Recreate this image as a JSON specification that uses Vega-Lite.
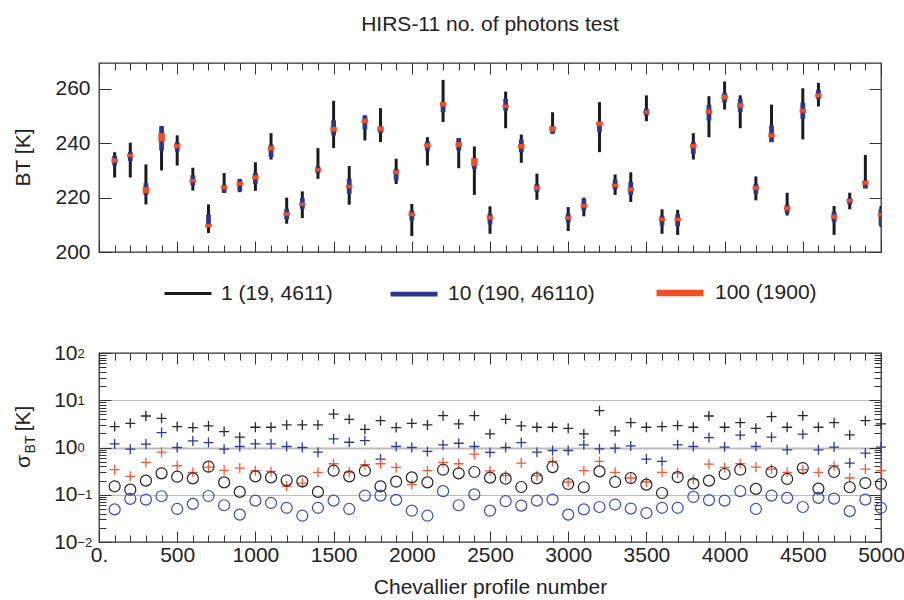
{
"$schema": "https://vega.github.io/schema/vega-lite/v6.json",
"padding": {"left": 11, "top": 12, "right": 0, "bottom": 0},
"config": {
  "font": "Liberation Sans",
  "view": {"stroke": "#333", "strokeWidth": 1.3},
  "axis": {"labelFont": "Liberation Sans", "labelFontSize": 21, "labelColor": "#222", "titleFont": "Liberation Sans", "titleFontSize": 21, "titleColor": "#222", "titleFontWeight": "normal", "tickColor": "#333", "tickWidth": 1, "domain": false, "grid": false, "labelOverlap": false, "labelBound": false, "labelFlush": false},
  "legend": {"layout": {"bottom": {"anchor": "middle"}}}
},
"spacing": 34,
"resolve": {"legend": {"color": "independent", "strokeWidth": "independent"}},
"vconcat": [
{
  "width": 782, "height": 189,
  "title": {"text": "HIRS-11 no. of photons test", "fontSize": 21, "fontWeight": "normal", "color": "#222", "offset": 28, "anchor": "middle", "font": "Liberation Sans"},
  "data": {"values": [
{"p":100,"s":"1 (19, 4611)","lo":227.4,"hi":236.7},{"p":200,"s":"1 (19, 4611)","lo":227.4,"hi":240.2},{"p":300,"s":"1 (19, 4611)","lo":217.5,"hi":232.2},{"p":400,"s":"1 (19, 4611)","lo":230.0,"hi":246.3},{"p":500,"s":"1 (19, 4611)","lo":231.8,"hi":242.9},{"p":600,"s":"1 (19, 4611)","lo":222.6,"hi":231.0},{"p":700,"s":"1 (19, 4611)","lo":207.0,"hi":217.5},{"p":800,"s":"1 (19, 4611)","lo":221.7,"hi":229.0},{"p":900,"s":"1 (19, 4611)","lo":222.0,"hi":226.9},{"p":1000,"s":"1 (19, 4611)","lo":222.5,"hi":233.0},
{"p":1100,"s":"1 (19, 4611)","lo":234.0,"hi":243.7},{"p":1200,"s":"1 (19, 4611)","lo":210.4,"hi":220.0},{"p":1300,"s":"1 (19, 4611)","lo":212.5,"hi":222.3},{"p":1400,"s":"1 (19, 4611)","lo":226.9,"hi":238.2},{"p":1500,"s":"1 (19, 4611)","lo":238.2,"hi":255.6},{"p":1600,"s":"1 (19, 4611)","lo":217.4,"hi":231.6},{"p":1700,"s":"1 (19, 4611)","lo":241.0,"hi":250.2},{"p":1800,"s":"1 (19, 4611)","lo":240.4,"hi":252.9},{"p":1900,"s":"1 (19, 4611)","lo":225.0,"hi":234.3},{"p":2000,"s":"1 (19, 4611)","lo":205.9,"hi":217.7},
{"p":2100,"s":"1 (19, 4611)","lo":231.8,"hi":242.2},{"p":2200,"s":"1 (19, 4611)","lo":247.8,"hi":263.3},{"p":2300,"s":"1 (19, 4611)","lo":230.8,"hi":241.9},{"p":2400,"s":"1 (19, 4611)","lo":221.0,"hi":238.8},{"p":2500,"s":"1 (19, 4611)","lo":206.7,"hi":216.8},{"p":2600,"s":"1 (19, 4611)","lo":245.5,"hi":259.0},{"p":2700,"s":"1 (19, 4611)","lo":232.8,"hi":243.2},{"p":2800,"s":"1 (19, 4611)","lo":219.2,"hi":228.8},{"p":2900,"s":"1 (19, 4611)","lo":243.5,"hi":251.4},{"p":3000,"s":"1 (19, 4611)","lo":207.7,"hi":216.5},
{"p":3100,"s":"1 (19, 4611)","lo":213.1,"hi":220.0},{"p":3200,"s":"1 (19, 4611)","lo":236.7,"hi":255.1},{"p":3300,"s":"1 (19, 4611)","lo":221.0,"hi":228.5},{"p":3400,"s":"1 (19, 4611)","lo":218.4,"hi":229.3},{"p":3500,"s":"1 (19, 4611)","lo":248.1,"hi":257.6},{"p":3600,"s":"1 (19, 4611)","lo":206.7,"hi":215.7},{"p":3700,"s":"1 (19, 4611)","lo":206.3,"hi":215.5},{"p":3800,"s":"1 (19, 4611)","lo":234.0,"hi":243.7},{"p":3900,"s":"1 (19, 4611)","lo":242.2,"hi":257.3},{"p":4000,"s":"1 (19, 4611)","lo":252.4,"hi":262.7},
{"p":4100,"s":"1 (19, 4611)","lo":245.5,"hi":257.6},{"p":4200,"s":"1 (19, 4611)","lo":219.0,"hi":227.8},{"p":4300,"s":"1 (19, 4611)","lo":240.4,"hi":254.2},{"p":4400,"s":"1 (19, 4611)","lo":213.4,"hi":221.8},{"p":4500,"s":"1 (19, 4611)","lo":241.4,"hi":260.2},{"p":4600,"s":"1 (19, 4611)","lo":253.5,"hi":262.2},{"p":4700,"s":"1 (19, 4611)","lo":206.3,"hi":216.9},{"p":4800,"s":"1 (19, 4611)","lo":215.7,"hi":221.8},{"p":4900,"s":"1 (19, 4611)","lo":223.9,"hi":235.7},{"p":5000,"s":"1 (19, 4611)","lo":209.2,"hi":216.9},
{"p":100,"s":"10 (190, 46110)","lo":231.8,"hi":235.3},{"p":200,"s":"10 (190, 46110)","lo":233.5,"hi":236.7},{"p":300,"s":"10 (190, 46110)","lo":221.0,"hi":225.3},{"p":400,"s":"10 (190, 46110)","lo":237.3,"hi":246.3},{"p":500,"s":"10 (190, 46110)","lo":237.0,"hi":240.4},{"p":600,"s":"10 (190, 46110)","lo":224.5,"hi":228.2},{"p":700,"s":"10 (190, 46110)","lo":209.2,"hi":213.8},{"p":800,"s":"10 (190, 46110)","lo":221.8,"hi":224.7},{"p":900,"s":"10 (190, 46110)","lo":222.3,"hi":226.8},{"p":1000,"s":"10 (190, 46110)","lo":225.1,"hi":229.1},
{"p":1100,"s":"10 (190, 46110)","lo":234.9,"hi":239.5},{"p":1200,"s":"10 (190, 46110)","lo":212.0,"hi":215.9},{"p":1300,"s":"10 (190, 46110)","lo":215.9,"hi":219.8},{"p":1400,"s":"10 (190, 46110)","lo":229.0,"hi":231.5},{"p":1500,"s":"10 (190, 46110)","lo":242.9,"hi":248.4},{"p":1600,"s":"10 (190, 46110)","lo":221.4,"hi":226.9},{"p":1700,"s":"10 (190, 46110)","lo":245.1,"hi":250.2},{"p":1800,"s":"10 (190, 46110)","lo":243.8,"hi":246.3},{"p":1900,"s":"10 (190, 46110)","lo":226.3,"hi":230.6},{"p":2000,"s":"10 (190, 46110)","lo":211.6,"hi":215.3},
{"p":2100,"s":"10 (190, 46110)","lo":237.3,"hi":240.6},{"p":2200,"s":"10 (190, 46110)","lo":251.4,"hi":255.1},{"p":2300,"s":"10 (190, 46110)","lo":237.3,"hi":241.9},{"p":2400,"s":"10 (190, 46110)","lo":230.6,"hi":234.3},{"p":2500,"s":"10 (190, 46110)","lo":210.1,"hi":214.1},{"p":2600,"s":"10 (190, 46110)","lo":252.0,"hi":256.3},{"p":2700,"s":"10 (190, 46110)","lo":236.7,"hi":241.4},{"p":2800,"s":"10 (190, 46110)","lo":222.0,"hi":225.1},{"p":2900,"s":"10 (190, 46110)","lo":243.5,"hi":246.3},{"p":3000,"s":"10 (190, 46110)","lo":210.8,"hi":214.1},
{"p":3100,"s":"10 (190, 46110)","lo":215.3,"hi":219.6},{"p":3200,"s":"10 (190, 46110)","lo":244.1,"hi":247.8},{"p":3300,"s":"10 (190, 46110)","lo":223.0,"hi":226.7},{"p":3400,"s":"10 (190, 46110)","lo":221.0,"hi":225.7},{"p":3500,"s":"10 (190, 46110)","lo":250.2,"hi":252.7},{"p":3600,"s":"10 (190, 46110)","lo":209.8,"hi":213.4},{"p":3700,"s":"10 (190, 46110)","lo":209.5,"hi":213.9},{"p":3800,"s":"10 (190, 46110)","lo":236.1,"hi":240.4},{"p":3900,"s":"10 (190, 46110)","lo":248.4,"hi":254.1},{"p":4000,"s":"10 (190, 46110)","lo":255.1,"hi":258.5},
{"p":4100,"s":"10 (190, 46110)","lo":251.4,"hi":256.3},{"p":4200,"s":"10 (190, 46110)","lo":221.4,"hi":225.1},{"p":4300,"s":"10 (190, 46110)","lo":240.4,"hi":246.5},{"p":4400,"s":"10 (190, 46110)","lo":214.1,"hi":217.4},{"p":4500,"s":"10 (190, 46110)","lo":249.0,"hi":254.9},{"p":4600,"s":"10 (190, 46110)","lo":256.3,"hi":259.6},{"p":4700,"s":"10 (190, 46110)","lo":211.0,"hi":214.9},{"p":4800,"s":"10 (190, 46110)","lo":217.4,"hi":219.8},{"p":4900,"s":"10 (190, 46110)","lo":223.3,"hi":226.3},{"p":5000,"s":"10 (190, 46110)","lo":209.8,"hi":215.9},
{"p":100,"s":"100 (1900)","lo":232.9,"hi":234.4},{"p":200,"s":"100 (1900)","lo":234.9,"hi":236.0},{"p":300,"s":"100 (1900)","lo":221.7,"hi":223.9},{"p":400,"s":"100 (1900)","lo":240.6,"hi":243.8},{"p":500,"s":"100 (1900)","lo":238.2,"hi":239.7},{"p":600,"s":"100 (1900)","lo":225.6,"hi":226.8},{"p":700,"s":"100 (1900)","lo":209.0,"hi":210.4},{"p":800,"s":"100 (1900)","lo":223.1,"hi":224.4},{"p":900,"s":"100 (1900)","lo":224.4,"hi":225.8},{"p":1000,"s":"100 (1900)","lo":226.7,"hi":228.2},
{"p":1100,"s":"100 (1900)","lo":237.3,"hi":238.9},{"p":1200,"s":"100 (1900)","lo":213.3,"hi":214.6},{"p":1300,"s":"100 (1900)","lo":217.0,"hi":218.1},{"p":1400,"s":"100 (1900)","lo":229.6,"hi":230.8},{"p":1500,"s":"100 (1900)","lo":244.3,"hi":246.0},{"p":1600,"s":"100 (1900)","lo":223.4,"hi":224.7},{"p":1700,"s":"100 (1900)","lo":247.4,"hi":249.0},{"p":1800,"s":"100 (1900)","lo":244.4,"hi":246.2},{"p":1900,"s":"100 (1900)","lo":228.6,"hi":230.0},{"p":2000,"s":"100 (1900)","lo":213.2,"hi":214.5},
{"p":2100,"s":"100 (1900)","lo":238.4,"hi":240.0},{"p":2200,"s":"100 (1900)","lo":253.5,"hi":255.1},{"p":2300,"s":"100 (1900)","lo":238.6,"hi":240.4},{"p":2400,"s":"100 (1900)","lo":231.6,"hi":234.5},{"p":2500,"s":"100 (1900)","lo":211.9,"hi":213.4},{"p":2600,"s":"100 (1900)","lo":253.0,"hi":254.2},{"p":2700,"s":"100 (1900)","lo":238.0,"hi":239.7},{"p":2800,"s":"100 (1900)","lo":222.9,"hi":224.2},{"p":2900,"s":"100 (1900)","lo":244.3,"hi":246.2},{"p":3000,"s":"100 (1900)","lo":211.9,"hi":213.1},
{"p":3100,"s":"100 (1900)","lo":216.3,"hi":217.7},{"p":3200,"s":"100 (1900)","lo":246.3,"hi":248.0},{"p":3300,"s":"100 (1900)","lo":223.9,"hi":225.1},{"p":3400,"s":"100 (1900)","lo":222.3,"hi":223.7},{"p":3500,"s":"100 (1900)","lo":250.8,"hi":252.0},{"p":3600,"s":"100 (1900)","lo":211.4,"hi":212.6},{"p":3700,"s":"100 (1900)","lo":211.4,"hi":212.6},{"p":3800,"s":"100 (1900)","lo":238.2,"hi":239.7},{"p":3900,"s":"100 (1900)","lo":250.8,"hi":252.5},{"p":4000,"s":"100 (1900)","lo":256.1,"hi":257.8},
{"p":4100,"s":"100 (1900)","lo":253.1,"hi":254.7},{"p":4200,"s":"100 (1900)","lo":222.8,"hi":224.2},{"p":4300,"s":"100 (1900)","lo":242.1,"hi":243.6},{"p":4400,"s":"100 (1900)","lo":215.3,"hi":216.8},{"p":4500,"s":"100 (1900)","lo":251.2,"hi":252.7},{"p":4600,"s":"100 (1900)","lo":256.8,"hi":258.3},{"p":4700,"s":"100 (1900)","lo":212.2,"hi":213.7},{"p":4800,"s":"100 (1900)","lo":218.2,"hi":219.5},{"p":4900,"s":"100 (1900)","lo":224.7,"hi":226.2},{"p":5000,"s":"100 (1900)","lo":213.0,"hi":214.4}
  ]},
  "layer": [
    {
      "mark": {"type": "rule", "clip": true, "strokeCap": "butt"},
      "encoding": {
        "x": {"field": "p", "type": "quantitative", "scale": {"domain": [0, 5000], "nice": false, "zero": false},
              "axis": {"orient": "bottom", "values": [0,100,200,300,400,500,600,700,800,900,1000,1100,1200,1300,1400,1500,1600,1700,1800,1900,2000,2100,2200,2300,2400,2500,2600,2700,2800,2900,3000,3100,3200,3300,3400,3500,3600,3700,3800,3900,4000,4100,4200,4300,4400,4500,4600,4700,4800,4900,5000],
                       "tickSize": {"condition": {"test": "datum.value % 500 === 0", "value": -11}, "value": -7}, "labels": false, "title": null}},
        "y": {"field": "lo", "type": "quantitative", "scale": {"domain": [200, 269.5], "nice": false, "zero": false},
              "axis": {"orient": "left", "values": [200, 220, 240, 260], "tickSize": -12, "labelPadding": 21, "title": "BT [K]", "titleX": -70, "titleY": 94, "titleAngle": -90, "titleAlign": "center", "titleBaseline": "alphabetic"}},
        "y2": {"field": "hi"},
        "color": {"field": "s", "type": "nominal", "sort": null,
                  "scale": {"domain": ["1 (19, 4611)", "10 (190, 46110)", "100 (1900)"], "range": ["#1c1c1c", "#2a3691", "#f04e23"]},
                  "legend": {"orient": "bottom", "direction": "horizontal", "title": null, "symbolType": "stroke", "symbolSize": 2209, "labelFontSize": 21, "labelColor": "#222", "labelFont": "Liberation Sans", "labelOffset": 8, "columnPadding": 48, "labelLimit": 300, "offset": 13}},
        "strokeWidth": {"field": "s", "type": "nominal", "sort": null,
                  "scale": {"domain": ["1 (19, 4611)", "10 (190, 46110)", "100 (1900)"], "range": [3, 6.5, 12.5]},
                  "legend": {"orient": "bottom", "direction": "horizontal", "title": null, "symbolType": "stroke", "symbolSize": 2209, "labelFontSize": 21, "labelColor": "#222", "labelFont": "Liberation Sans", "labelOffset": 8, "columnPadding": 48, "labelLimit": 300, "offset": 13}}
      }
    },
    {
      "mark": {"type": "point", "opacity": 0},
      "encoding": {
        "x": {"field": "p", "type": "quantitative", "scale": {"domain": [0, 5000], "nice": false, "zero": false},
              "axis": {"orient": "top", "values": [0,100,200,300,400,500,600,700,800,900,1000,1100,1200,1300,1400,1500,1600,1700,1800,1900,2000,2100,2200,2300,2400,2500,2600,2700,2800,2900,3000,3100,3200,3300,3400,3500,3600,3700,3800,3900,4000,4100,4200,4300,4400,4500,4600,4700,4800,4900,5000],
                       "tickSize": {"condition": {"test": "datum.value % 500 === 0", "value": -11}, "value": -7}, "labels": false, "title": null}},
        "y": {"field": "lo", "type": "quantitative", "scale": {"domain": [200, 269.5], "nice": false, "zero": false},
              "axis": {"orient": "right", "values": [200, 220, 240, 260], "tickSize": -12, "labels": false, "title": null}}
      }
    }
  ],
  "resolve": {"axis": {"x": "independent", "y": "independent"}}
},
{
  "width": 782, "height": 189,
  "data": {"values": [
{"p":100,"bp":2.77,"up":1.19,"rp":0.339,"bc":0.151,"uc":0.049},{"p":200,"bp":3.25,"up":0.923,"rp":0.245,"bc":0.128,"uc":0.082},{"p":300,"bp":4.64,"up":1.18,"rp":0.483,"bc":0.199,"uc":0.079},{"p":400,"bp":4.15,"up":2.07,"rp":0.798,"bc":0.284,"uc":0.093},{"p":500,"bp":2.77,"up":1.0,"rp":0.411,"bc":0.241,"uc":0.05},
{"p":600,"bp":2.64,"up":1.38,"rp":0.298,"bc":0.222,"uc":0.064},{"p":700,"bp":2.86,"up":1.27,"rp":0.385,"bc":0.392,"uc":0.094},{"p":800,"bp":2.17,"up":0.923,"rp":0.328,"bc":0.183,"uc":0.06},{"p":900,"bp":1.65,"up":1.05,"rp":0.367,"bc":0.115,"uc":0.038},{"p":1000,"bp":2.68,"up":1.19,"rp":0.323,"bc":0.245,"uc":0.075},
{"p":1100,"bp":2.68,"up":1.19,"rp":0.312,"bc":0.233,"uc":0.067},{"p":1200,"bp":3.0,"up":1.05,"rp":0.151,"bc":0.202,"uc":0.053},{"p":1300,"bp":3.0,"up":1.0,"rp":0.177,"bc":0.192,"uc":0.036},{"p":1400,"bp":3.0,"up":0.798,"rp":0.298,"bc":0.115,"uc":0.053},{"p":1500,"bp":5.11,"up":1.52,"rp":0.453,"bc":0.323,"uc":0.075},
{"p":1600,"bp":3.95,"up":1.29,"rp":0.298,"bc":0.245,"uc":0.05},{"p":1700,"bp":2.43,"up":1.4,"rp":0.432,"bc":0.323,"uc":0.096},{"p":1800,"bp":3.7,"up":0.568,"rp":0.453,"bc":0.151,"uc":0.096},{"p":1900,"bp":2.64,"up":1.05,"rp":0.379,"bc":0.189,"uc":0.078},{"p":2000,"bp":3.25,"up":1.0,"rp":0.164,"bc":0.233,"uc":0.046},
{"p":2100,"bp":3.0,"up":0.824,"rp":0.323,"bc":0.183,"uc":0.036},{"p":2200,"bp":4.72,"up":1.14,"rp":0.483,"bc":0.339,"uc":0.119},{"p":2300,"bp":3.15,"up":1.23,"rp":0.453,"bc":0.284,"uc":0.06},{"p":2400,"bp":4.72,"up":1.05,"rp":0.724,"bc":0.303,"uc":0.102},{"p":2500,"bp":1.94,"up":0.785,"rp":0.32,"bc":0.23,"uc":0.046},
{"p":2600,"bp":3.95,"up":1.0,"rp":0.253,"bc":0.219,"uc":0.073},{"p":2700,"bp":2.86,"up":1.27,"rp":0.468,"bc":0.146,"uc":0.059},{"p":2800,"bp":2.68,"up":0.798,"rp":0.253,"bc":0.222,"uc":0.075},{"p":2900,"bp":2.68,"up":0.865,"rp":0.507,"bc":0.385,"uc":0.079},{"p":3000,"bp":2.55,"up":0.865,"rp":0.186,"bc":0.169,"uc":0.038},
{"p":3100,"bp":1.94,"up":1.14,"rp":0.323,"bc":0.144,"uc":0.049},{"p":3200,"bp":6.01,"up":0.937,"rp":0.507,"bc":0.312,"uc":0.055},{"p":3300,"bp":2.24,"up":0.968,"rp":0.298,"bc":0.186,"uc":0.062},{"p":3400,"bp":3.36,"up":1.08,"rp":0.226,"bc":0.226,"uc":0.051},{"p":3500,"bp":2.68,"up":0.568,"rp":0.186,"bc":0.164,"uc":0.041},
{"p":3600,"bp":2.77,"up":0.507,"rp":0.298,"bc":0.109,"uc":0.053},{"p":3700,"bp":2.91,"up":1.14,"rp":0.288,"bc":0.237,"uc":0.053},{"p":3800,"bp":2.68,"up":1.05,"rp":0.209,"bc":0.172,"uc":0.09},{"p":3900,"bp":4.64,"up":1.62,"rp":0.446,"bc":0.199,"uc":0.077},{"p":4000,"bp":2.68,"up":1.02,"rp":0.379,"bc":0.275,"uc":0.075},
{"p":4100,"bp":3.36,"up":1.82,"rp":0.453,"bc":0.339,"uc":0.119},{"p":4200,"bp":2.55,"up":1.05,"rp":0.385,"bc":0.133,"uc":0.05},{"p":4300,"bp":4.49,"up":1.65,"rp":0.35,"bc":0.303,"uc":0.096},{"p":4400,"bp":2.68,"up":0.893,"rp":0.298,"bc":0.216,"uc":0.086},{"p":4500,"bp":4.72,"up":1.91,"rp":0.339,"bc":0.367,"uc":0.055},
{"p":4600,"bp":2.68,"up":0.893,"rp":0.298,"bc":0.135,"uc":0.086},{"p":4700,"bp":3.36,"up":1.02,"rp":0.411,"bc":0.303,"uc":0.083},{"p":4800,"bp":1.85,"up":0.468,"rp":0.226,"bc":0.144,"uc":0.045},{"p":4900,"bp":3.7,"up":0.76,"rp":0.35,"bc":0.177,"uc":0.079},{"p":5000,"bp":3.15,"up":1.02,"rp":0.323,"bc":0.169,"uc":0.053}
  ]},
  "layer": [
    {
      "mark": {"type": "point", "shape": "M-1,0H1M0,-1V1", "size": 100, "filled": false, "stroke": "#2b2b2b", "strokeWidth": 1.3, "opacity": 1},
      "encoding": {
        "x": {"field": "p", "type": "quantitative", "scale": {"domain": [0, 5000], "nice": false, "zero": false},
              "axis": {"orient": "bottom", "values": [0,100,200,300,400,500,600,700,800,900,1000,1100,1200,1300,1400,1500,1600,1700,1800,1900,2000,2100,2200,2300,2400,2500,2600,2700,2800,2900,3000,3100,3200,3300,3400,3500,3600,3700,3800,3900,4000,4100,4200,4300,4400,4500,4600,4700,4800,4900,5000],
                       "tickSize": {"condition": {"test": "datum.value % 500 === 0", "value": -11}, "value": -7},
                       "labelExpr": "datum.value === 0 ? '0.' : (datum.value % 500 === 0 ? '' + datum.value : '')",
                       "labelPadding": 13, "title": "Chevallier profile number", "titlePadding": 7}},
        "y": {"field": "bp", "type": "quantitative", "scale": {"type": "log", "domain": [0.01, 100], "nice": false},
              "axis": {"orient": "left", "values": [0.01,0.02,0.03,0.04,0.05,0.06,0.07,0.08,0.09,0.1,0.2,0.3,0.4,0.5,0.6,0.7,0.8,0.9,1,2,3,4,5,6,7,8,9,10,20,30,40,50,60,70,80,90,100],
                       "tickSize": {"condition": {"test": "datum.value === 0.01 || datum.value === 0.1 || datum.value === 1 || datum.value === 10 || datum.value === 100", "value": -12}, "value": -7},
                       "labelExpr": "(datum.value === 0.01 || datum.value === 0.1 || datum.value === 1 || datum.value === 10 || datum.value === 100) ? '10' : ''",
                       "labelPadding": 34, "labelBaseline": "middle",
                       "title": "σ", "titleX": -70, "titleY": 108, "titleAngle": -90, "titleAlign": "center", "titleBaseline": "alphabetic"}}
      }
    },
    {
      "mark": {"type": "point", "shape": "M-1,0H1M0,-1V1", "size": 100, "filled": false, "stroke": "#2e3a94", "strokeWidth": 1.3, "opacity": 1},
      "encoding": {
        "x": {"field": "p", "type": "quantitative", "scale": {"domain": [0, 5000], "nice": false, "zero": false},
              "axis": {"orient": "top", "values": [0,100,200,300,400,500,600,700,800,900,1000,1100,1200,1300,1400,1500,1600,1700,1800,1900,2000,2100,2200,2300,2400,2500,2600,2700,2800,2900,3000,3100,3200,3300,3400,3500,3600,3700,3800,3900,4000,4100,4200,4300,4400,4500,4600,4700,4800,4900,5000],
                       "tickSize": {"condition": {"test": "datum.value % 500 === 0", "value": -11}, "value": -7}, "labels": false, "title": null}},
        "y": {"field": "up", "type": "quantitative", "scale": {"type": "log", "domain": [0.01, 100], "nice": false},
              "axis": {"orient": "left", "values": [0.01, 0.1, 1, 10, 100], "ticks": false,
                       "labelExpr": "datum.value >= 100 ? '2' : datum.value >= 10 ? '1' : datum.value >= 1 ? '0' : datum.value >= 0.1 ? '−1' : '−2'",
                       "labelFontSize": 13, "labelAlign": "left", "labelBaseline": "middle", "labelPadding": 22, "labelDy": -8,
                       "title": "BT", "titleFontSize": 14, "titleX": -65, "titleY": 91, "titleAngle": -90, "titleAlign": "center", "titleBaseline": "alphabetic"}}
      }
    },
    {
      "mark": {"type": "point", "shape": "M-1,0H1M0,-1V1", "size": 100, "filled": false, "stroke": "#f15a3a", "strokeWidth": 1.3, "opacity": 1},
      "encoding": {
        "x": {"field": "p", "type": "quantitative", "scale": {"domain": [0, 5000], "nice": false, "zero": false}, "axis": null},
        "y": {"field": "rp", "type": "quantitative", "scale": {"type": "log", "domain": [0.01, 100], "nice": false},
              "axis": {"orient": "right", "values": [0.01,0.02,0.03,0.04,0.05,0.06,0.07,0.08,0.09,0.1,0.2,0.3,0.4,0.5,0.6,0.7,0.8,0.9,1,2,3,4,5,6,7,8,9,10,20,30,40,50,60,70,80,90,100],
                       "tickSize": {"condition": {"test": "datum.value === 0.01 || datum.value === 0.1 || datum.value === 1 || datum.value === 10 || datum.value === 100", "value": -12}, "value": -7},
                       "labels": false, "title": null}}
      }
    },
    {
      "mark": {"type": "point", "shape": "circle", "size": 121, "filled": false, "stroke": "#222", "strokeWidth": 1.2, "opacity": 1},
      "encoding": {
        "x": {"field": "p", "type": "quantitative", "scale": {"domain": [0, 5000], "nice": false, "zero": false}, "axis": null},
        "y": {"field": "bc", "type": "quantitative", "scale": {"type": "log", "domain": [0.01, 100], "nice": false},
              "axis": {"orient": "left", "values": [0.1, 1, 10], "ticks": false, "labels": false, "grid": true, "gridColor": "#bdbdbd",
                       "gridWidth": {"condition": {"test": "datum.value === 1", "value": 2}, "value": 1},
                       "title": "[K]", "titleX": -70, "titleY": 65, "titleAngle": -90, "titleAlign": "center", "titleBaseline": "alphabetic"}}
      }
    },
    {
      "mark": {"type": "point", "shape": "circle", "size": 121, "filled": false, "stroke": "#3a4db0", "strokeWidth": 1.2, "opacity": 1},
      "encoding": {
        "x": {"field": "p", "type": "quantitative", "scale": {"domain": [0, 5000], "nice": false, "zero": false}, "axis": null},
        "y": {"field": "uc", "type": "quantitative", "scale": {"type": "log", "domain": [0.01, 100], "nice": false}, "axis": null}
      }
    }
  ],
  "resolve": {"axis": {"x": "independent", "y": "independent"}}
}
]
}
